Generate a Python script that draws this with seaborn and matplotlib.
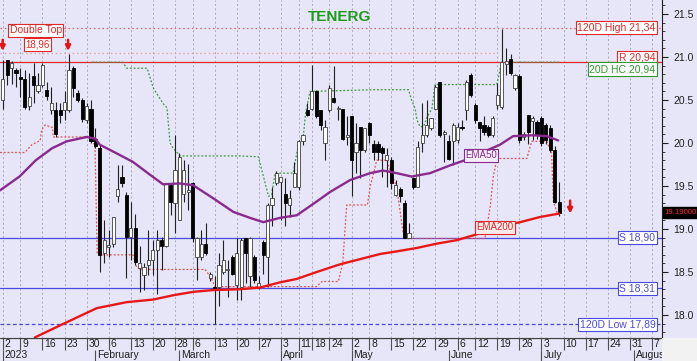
import numpy as np
import pandas as pd
import matplotlib
matplotlib.use("Agg")
import matplotlib.pyplot as plt
import matplotlib.transforms as mtransforms
from matplotlib.patches import Rectangle
from matplotlib.ticker import MultipleLocator
import seaborn as sns

# ---------------- data (trading-day index 0 = 2 Jan 2023) ----------------
opens = [20.50, 20.96, 20.87, 20.85, 20.76, 20.75, 20.43, 20.78, 20.60, 20.67,
         20.62, 20.38, 20.38, 20.38, 20.38, 20.38, 20.87, 20.585, 20.50, 20.27,
         20.39, 20.05, 19.94, 18.72, 18.79, 18.83, 19.38, 19.60, 19.40, 18.91,
         19.01, 18.55, 18.46, 18.58, 18.64, 18.76, 18.87, 18.80, 19.51, 19.30,
         19.11, 19.41, 19.43, 19.54, 18.68, 18.68, 18.83, 18.43, 18.33, 18.33,
         18.50, 18.52, 18.68, 18.35, 18.33, 18.89, 18.45, 18.68, 18.33, 18.85,
         18.68, 19.28, 19.53, 19.55, 19.41, 19.28, 19.49, 19.49, 20.02, 20.38,
         20.39, 20.60, 20.38, 20.00, 20.38, 20.52, 20.39, 20.39, 20.07, 20.31,
         19.90, 20.19, 19.92, 20.23, 19.99, 19.99, 19.94, 19.80, 19.80, 19.40,
         19.47, 19.30, 18.89, 19.59, 19.49, 20.00, 20.09, 20.17, 20.40, 20.71,
         20.11, 20.02, 20.02, 20.03, 20.19, 20.38, 20.79, 20.44, 20.25, 20.21,
         20.19, 20.09, 20.44, 20.42, 20.92, 20.98, 20.64, 20.78, 20.07, 20.33,
         20.26, 20.25, 20.29, 20.21, 20.17, 19.92, 19.32]
highs = [20.96, 20.97, 20.95, 20.87, 20.87, 20.85, 20.81, 20.93, 20.81, 20.93,
         20.71, 20.655, 20.48, 20.46, 20.60, 21.04, 20.89, 20.62, 20.52, 20.46,
         20.50, 20.17, 19.98, 19.11, 18.99, 19.14, 19.74, 19.74, 19.43, 19.32,
         19.18, 18.80, 18.60, 18.99, 18.87, 18.99, 18.91, 19.53, 19.53, 20.09,
         19.88, 19.80, 19.76, 19.55, 18.91, 18.99, 19.07, 18.50, 18.45, 18.72,
         18.87, 18.64, 18.70, 18.89, 18.89, 18.89, 18.91, 18.70, 18.45, 18.87,
         19.30, 19.49, 19.67, 19.61, 19.59, 19.45, 19.78, 20.04, 20.11, 20.46,
         20.91, 20.62, 20.38, 20.27, 20.67, 20.89, 20.43, 20.40, 20.31, 20.31,
         20.23, 20.19, 20.17, 20.25, 20.03, 20.02, 19.96, 19.94, 19.84, 19.57,
         19.49, 19.34, 19.07, 19.61, 20.02, 20.46, 20.50, 20.29, 20.67, 20.71,
         20.15, 20.09, 20.23, 20.23, 20.27, 20.73, 20.81, 20.46, 20.25, 20.31,
         20.21, 20.31, 20.70, 21.33, 21.10, 21.04, 20.80, 20.80, 20.13, 20.33,
         20.31, 20.27, 20.31, 20.23, 20.21, 19.96, 19.55]
lows = [20.40, 20.68, 20.69, 20.65, 20.54, 20.40, 20.38, 20.46, 20.58, 20.655,
        20.50, 20.34, 20.07, 20.23, 20.27, 20.36, 20.54, 20.48, 20.25, 20.23,
        20.00, 19.94, 18.50, 18.60, 18.68, 18.79, 19.32, 19.49, 18.43, 18.64,
        18.58, 18.27, 18.29, 18.46, 18.46, 18.25, 18.52, 18.79, 19.16, 18.95,
        19.11, 19.32, 19.22, 18.85, 18.41, 18.64, 18.70, 18.40, 17.89, 18.10,
        18.48, 18.21, 18.46, 18.17, 18.17, 18.37, 18.33, 18.37, 18.30, 18.48,
        18.33, 19.03, 19.51, 19.10, 19.03, 19.14, 19.49, 19.45, 19.98, 20.31,
        20.38, 20.29, 20.15, 19.80, 20.36, 20.46, 20.27, 20.03, 19.98, 19.38,
        19.65, 19.59, 19.90, 20.00, 19.80, 19.80, 19.61, 19.49, 19.47, 19.38,
        19.32, 18.89, 18.89, 19.47, 19.49, 19.90, 20.07, 20.15, 20.40, 20.07,
        19.78, 19.80, 19.74, 20.00, 20.15, 20.27, 20.54, 20.23, 20.02, 20.09,
        20.07, 20.07, 20.40, 20.40, 20.79, 20.79, 20.62, 20.00, 20.04, 19.99,
        20.04, 20.05, 19.97, 19.99, 19.90, 19.30, 19.15]
closes = [20.75, 20.79, 20.93, 20.82, 20.75, 20.42, 20.54, 20.67, 20.67, 20.91,
          20.55, 20.46, 20.11, 20.33, 20.48, 20.85, 20.635, 20.50, 20.275, 20.43,
          20.02, 19.96, 18.70, 18.87, 18.82, 19.14, 19.47, 19.53, 18.91, 19.01,
          18.62, 18.60, 18.56, 18.64, 18.76, 18.87, 18.80, 19.53, 19.32, 19.69,
          19.84, 19.69, 19.45, 18.89, 18.89, 18.83, 18.72, 18.48, 18.30, 18.58,
          18.64, 18.54, 18.48, 18.72, 18.87, 18.72, 18.89, 18.41, 18.37, 18.70,
          19.28, 19.36, 19.65, 19.60, 19.30, 19.36, 19.65, 20.02, 20.09, 20.33,
          20.60, 20.31, 20.21, 20.19, 20.635, 20.48, 20.41, 20.05, 20.09, 19.80,
          20.00, 19.92, 20.17, 20.09, 19.90, 19.90, 19.88, 19.86, 19.53, 19.51,
          19.38, 18.89, 18.95, 19.49, 19.95, 20.09, 20.21, 20.29, 20.655, 20.09,
          20.13, 19.82, 20.21, 20.19, 20.17, 20.71, 20.56, 20.27, 20.17, 20.13,
          20.09, 20.29, 20.56, 20.94, 20.95, 20.81, 20.79, 20.03, 20.10, 20.13,
          20.29, 20.09, 20.00, 20.03, 19.92, 19.32, 19.19]

ema50_idx = [-0.6, 3.8, 7.5, 11.2, 14.5, 19.0, 21.0, 22.0, 25.8, 29.5, 33.4,
             36.3, 40.0, 43.1, 47.6, 52.2, 56.0, 59.0, 62.8, 66.6, 71.1, 74.1,
             78.7, 83.2, 86.1, 89.2, 92.6, 96.8, 101.3, 105.8, 108.1, 112.6,
             115.6, 120.1, 123.2, 125.8]
ema50_val = [19.45, 19.61, 19.80, 19.94, 20.02, 20.07, 20.05, 19.98, 19.88,
             19.78, 19.63, 19.52, 19.53, 19.51, 19.36, 19.20, 19.13, 19.08,
             19.13, 19.16, 19.32, 19.43, 19.57, 19.65, 19.68, 19.65, 19.61,
             19.65, 19.74, 19.82, 19.88, 19.98, 20.08, 20.09, 20.08, 20.03]

ema200_idx = [7.3, 13.0, 21.3, 28.1, 34.1, 38.6, 43.2, 47.6, 53.7, 58.3, 62.8,
              66.6, 71.1, 76.4, 81.7, 85.5, 89.2, 93.8, 98.3, 102.8, 108.1,
              112.6, 117.2, 121.7, 126.0]
ema200_val = [17.74, 17.88, 18.08, 18.15, 18.18, 18.23, 18.27, 18.29, 18.30,
              18.32, 18.38, 18.42, 18.50, 18.59, 18.66, 18.71, 18.74, 18.78,
              18.83, 18.87, 18.95, 19.03, 19.08, 19.14, 19.18]

hc20_idx = [20.2, 27.2, 28.1, 32.7, 34.1, 36.3, 37.2, 37.9, 38.6, 40.2, 53.7,
            57.9, 60.2, 60.9, 61.7, 65.8, 67.0, 68.1, 68.6, 69.6, 84.3, 91.9,
            92.6, 93.4, 93.8, 94.5, 95.3, 96.0, 97.2, 97.9, 111.9, 113.0, 126.0]
hc20_val = [20.94, 20.94, 20.87, 20.87, 20.64, 20.46, 20.41, 20.00, 19.94,
            19.85, 19.85, 19.84, 19.38, 19.40, 19.65, 19.65, 20.00, 20.09,
            20.35, 20.60, 20.62, 20.62, 20.50, 20.40, 20.27, 20.19, 20.19,
            20.29, 20.40, 20.68, 20.68, 20.94, 20.94]

low20_idx = [-0.6, 5.0, 6.6, 8.5, 8.8, 9.6, 11.3, 11.4, 20.2, 20.9, 21.4, 22.0,
             29.5, 30.3, 31.1, 45.8, 47.0, 48.1, 71.1, 72.3, 76.0, 77.0, 77.9,
             82.6, 83.2, 83.9, 84.7, 87.0, 87.7, 89.2, 90.7, 91.0, 109.2, 110.4,
             111.1, 111.9, 118.7, 119.8, 123.2, 124.3, 124.7, 125.6]
low20_val = [19.89, 19.89, 19.98, 20.03, 20.15, 20.21, 20.18, 20.07, 20.07,
             19.96, 18.72, 18.70, 18.70, 18.56, 18.53, 18.53, 18.45, 18.33,
             18.33, 18.39, 18.39, 18.60, 19.28, 19.28, 19.49, 19.63, 19.80,
             19.80, 19.69, 19.49, 18.95, 18.89, 18.89, 19.26, 19.61, 19.82,
             19.82, 20.02, 20.02, 19.88, 19.32, 19.18]

day_tick_idx = [0, 4, 9, 14, 19, 24, 29, 34, 39, 43, 48, 53, 58, 63, 67, 70, 74,
                79, 83, 88, 93, 98, 103, 107, 112, 117, 122, 127, 132, 137, 142, 147]
day_tick_lab = ["2", "9", "16", "23", "30", "6", "13", "20", "28", "6", "13", "20",
                "27", "3", "11", "18", "24", "2", "8", "15", "22", "29", "6", "12",
                "19", "26", "3", "10", "17", "24", "31", "7"]
month_idx = [0, 21, 40, 63, 79, 101, 122, 143]
month_lab = ["2023", "February", "March", "April", "May", "June", "July", "August"]
ytick_vals = [18.0, 18.5, 19.0, 19.5, 20.0, 20.5, 21.0, 21.5]

levels_val = [21.34, 20.94, 20.94, 18.90, 18.31, 17.89]
levels_lab = ["120D High 21,34", "R 20,94", "20D HC 20,94", "S 18,90",
              "S 18,31", "120D Low 17,89"]
last_price = 19.19

# ---------------- style ----------------
sns.set_style("white")
plt.rcParams["font.family"] = ["Liberation Sans", "DejaVu Sans"]

BG = "#E6E6F8"
RED = "#E02828"
BLUE = "#4A4AE0"
PURPLE = "#8A2A8E"
GREEN = "#2E9A2E"

W, H = 697, 361
fig = plt.figure(figsize=(W / 100, H / 100), dpi=100, facecolor=BG)
ax = fig.add_axes([0, 23 / H, 662 / W, 338 / H], facecolor=BG)
XMIN, XMAX = -0.61, 149.3
ax.set_xlim(XMIN, XMAX)
ax.set_ylim(17.733, 21.663)

# grid
for xi in day_tick_idx:
    ax.axvline(xi, color="#A8A8B8", lw=0.7, ls=(0, (2, 2.5)), zorder=0)

# horizontal levels
ax.axhline(levels_val[0], color="#E06060", lw=0.9, ls=(0, (1.2, 2.2)), zorder=1)
ax.hlines(21.05, XMIN, 111.9, color="#E8A0A0", lw=0.9, ls=(0, (1.2, 2.2)), zorder=1)
ax.axhline(levels_val[1], color=RED, lw=0.9, zorder=1)
ax.axhline(levels_val[3], color=BLUE, lw=0.9, zorder=1)
ax.axhline(levels_val[4], color=BLUE, lw=0.9, zorder=1)
ax.axhline(levels_val[5], color=BLUE, lw=0.9, ls=(0, (3, 2)), zorder=1)

# step indicator lines
hc_df = pd.DataFrame({"i": hc20_idx, "v": hc20_val})
lo_df = pd.DataFrame({"i": low20_idx, "v": low20_val})
sns.lineplot(data=hc_df, x="i", y="v", ax=ax, sort=False, estimator=None,
             color="#3A9A3A", lw=0.9, linestyle=(0, (1.5, 1.5)), zorder=2)
sns.lineplot(data=lo_df, x="i", y="v", ax=ax, sort=False, estimator=None,
             color="#E85050", lw=0.9, linestyle=(0, (1.5, 1.5)), zorder=2)

# candles
n = len(closes)
idx = np.arange(n)
o = np.array(opens); c = np.array(closes); hi = np.array(highs); lo = np.array(lows)
up = c >= o
ax.vlines(idx, lo, hi, color="#202020", lw=0.8, zorder=3)
bottom = np.minimum(o, c)
height = np.maximum(np.abs(c - o), 0.012)
ax.bar(idx[up], height[up], bottom=bottom[up], width=0.72, color="white",
       edgecolor="#404040", linewidth=0.6, zorder=4)
ax.bar(idx[~up], height[~up], bottom=bottom[~up], width=0.72, color="black",
       edgecolor="black", linewidth=0.6, zorder=4)

# EMAs
e50 = pd.DataFrame({"i": ema50_idx, "v": ema50_val})
e200 = pd.DataFrame({"i": ema200_idx, "v": ema200_val})
sns.lineplot(data=e50, x="i", y="v", ax=ax, color=PURPLE, lw=1.7, zorder=5,
             estimator=None)
sns.lineplot(data=e200, x="i", y="v", ax=ax, color="#E81818", lw=1.7, zorder=5,
             estimator=None)

# axes styling
for s in ["left", "top"]:
    ax.spines[s].set_visible(False)
ax.spines["right"].set_color("#202020")
ax.spines["bottom"].set_color("#404040")
ax.yaxis.tick_right()
ax.set_yticks(ytick_vals)
ax.set_yticklabels([f"{v:.1f}" for v in ytick_vals])
ax.yaxis.set_minor_locator(MultipleLocator(0.1))
ax.tick_params(axis="y", which="major", length=4, width=0.8, color="#202020",
               labelsize=7.5, pad=4, right=True, labelcolor="#202020")
ax.tick_params(axis="y", which="minor", length=2, width=0.6, color="#202020",
               right=True)
ax.set_xticks([])
ax.set_xlabel("")
ax.set_ylabel("")

# level labels on the right
tr = mtransforms.blended_transform_factory(ax.transAxes, ax.transData)
lab_y = [21.34, 20.99, 20.86, 18.90, 18.31, 17.89]
lab_col = [RED, RED, GREEN, BLUE, BLUE, BLUE]
for y, t, col in zip(lab_y, levels_lab, lab_col):
    ax.text(0.990, y, t, transform=tr, ha="right", va="center", fontsize=7.5,
            color=col, zorder=7,
            bbox=dict(boxstyle="square,pad=0.15", fc="white", ec=col, lw=0.8))

ax.text(1.004, last_price, "19.19000", transform=tr, ha="left", va="center",
        fontsize=5.6, color="#FF2A2A", clip_on=False, zorder=8,
        bbox=dict(boxstyle="square,pad=0.25", fc="black", ec="black"))

# annotations
ax.text(7.5, 21.31, "Double Top", ha="center", va="center", fontsize=7.5,
        color=RED, zorder=7,
        bbox=dict(boxstyle="square,pad=0.15", fc="white", ec=RED, lw=0.8))
ax.text(7.9, 21.15, "18,96", ha="center", va="center", fontsize=7,
        color=RED, zorder=7,
        bbox=dict(boxstyle="square,pad=0.15", fc="white", ec=RED, lw=0.8))
ax.text(108.3, 19.86, "EMA50", ha="center", va="center", fontsize=7,
        color=PURPLE, zorder=7,
        bbox=dict(boxstyle="square,pad=0.15", fc="#F4EEF8", ec=PURPLE, lw=0.8))
ax.text(111.4, 19.02, "EMA200", ha="center", va="center", fontsize=7,
        color=RED, zorder=7,
        bbox=dict(boxstyle="square,pad=0.15", fc="#FBECEC", ec=RED, lw=0.8))
for (xa, y0, y1) in [(0, 21.20, 21.07), (14.8, 21.20, 21.07), (128.5, 19.33, 19.18)]:
    ax.annotate("", xy=(xa, y1), xytext=(xa, y0),
                arrowprops=dict(arrowstyle="-|>", color="#E81010", lw=1.8,
                                mutation_scale=7, shrinkA=0, shrinkB=0),
                zorder=8)

fig.text(340 / W, 1 - 17 / H, "TENERG", ha="center", va="center",
         color="#1E9A1E", fontsize=11, fontweight="bold")

# date band
axd = fig.add_axes([0, 0, 662 / W, 23 / H], facecolor=BG)
axd.set_xlim(XMIN, XMAX)
axd.set_ylim(0, 23)
for s in axd.spines.values():
    s.set_visible(False)
axd.set_xticks([]); axd.set_yticks([])
axd.vlines(day_tick_idx, 11.5, 23, color="#505050", lw=0.8)
for xi, t in zip(day_tick_idx, day_tick_lab):
    axd.text(xi + 0.45, 17, t, ha="left", va="center", fontsize=7.5, color="#202020")
axd.vlines(month_idx, 0, 11.5, color="#505050", lw=0.8)
for xi, t in zip(month_idx, month_lab):
    axd.text(xi + 0.45, 5.5, t, ha="left", va="center", fontsize=7.5, color="#202020")
axd.axhline(23, color="#404040", lw=0.9)

fig.patches.append(Rectangle((662 / W, 0), 35 / W, 23 / H, transform=fig.transFigure,
                             facecolor="#F2F2F2", edgecolor="none", zorder=0))

fig.savefig("out.png", dpi=100, facecolor=BG)
